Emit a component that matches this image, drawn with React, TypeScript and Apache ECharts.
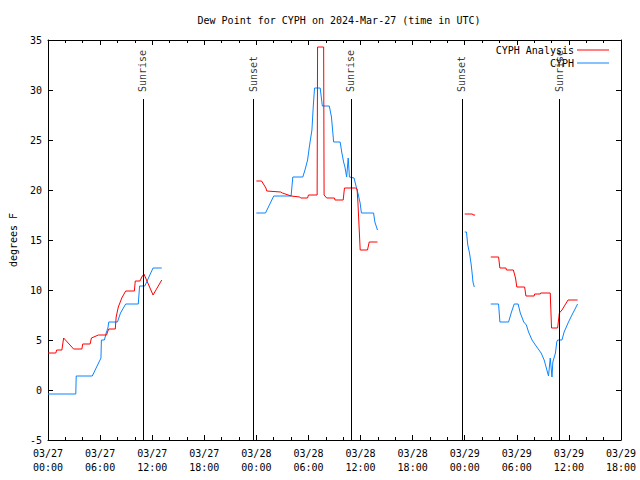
import React, { useEffect, useRef } from "react";
import * as echarts from "echarts";

// Hours since 2024-03-27 00:00 UTC; null = gap in data
const analysisHours: (number | null)[] = [
  0, 0.9, 1.0, 1.6, 1.8, 2.95, 3.9, 4.0, 4.85, 5.0, 5.8, 6.75, 6.85, 7.0, 7.75, 7.85, 8.1, 8.5, 8.95, 9.95, 10.05, 10.6, 10.8, 11.05, 12.1, 13.1,
  null,
  24.0, 24.6, 25.1, 25.2, 26.8, 27.0, 28.0, 29.0, 29.1, 29.9, 30.0, 31.0, 31.05, 31.75, 31.8, 32.1, 33.0, 33.05, 34.0, 34.15, 35.4, 35.6, 35.7, 35.85, 35.96, 36.8, 37.0, 37.95,
  null,
  48.0, 48.9, 48.95, 49.2,
  null,
  51.0, 51.9, 52.05, 52.75, 52.8, 53.6, 53.85, 54.0, 54.9, 55.05, 56.0, 56.05, 56.7, 56.75, 57.85, 58.0, 58.7, 58.9, 59.2, 59.9, 61.0,
];
const analysisValues: (number | null)[] = [
  3.7, 3.7, 4.0, 4.0, 5.2, 4.1, 4.1, 4.6, 4.6, 5.2, 5.5, 5.5, 5.8, 6.1, 6.1, 7.3, 8.3, 9.2, 9.9, 9.9, 10.9, 10.9, 11.3, 11.6, 9.5, 11.0,
  null,
  20.9, 20.9, 20.2, 19.9, 19.8, 19.7, 19.4, 19.3, 19.2, 19.2, 19.5, 19.5, 34.3, 34.3, 19.5, 19.2, 19.2, 19.0, 19.0, 20.2, 20.2, 20.1, 18.7, 16.0, 14.0, 14.0, 14.8, 14.8,
  null,
  17.6, 17.6, 17.5, 17.5,
  null,
  13.3, 13.3, 12.2, 12.2, 12.0, 12.0, 11.2, 10.3, 10.3, 9.4, 9.4, 9.6, 9.6, 9.7, 9.7, 6.2, 6.2, 7.7, 8.0, 9.0, 9.0,
];

const obsHours: (number | null)[] = [
  0, 3.2, 3.25, 5.1, 5.6, 6.1, 6.15, 6.5, 6.7, 6.9, 7.0, 8.0, 8.35, 8.95, 10.4, 10.55, 11.15, 12.1, 13.1,
  null,
  24.0, 25.05, 25.5, 26.0, 28.0, 28.2, 29.35, 29.6, 29.9, 30.1, 30.4, 30.55, 30.7, 31.35, 31.6, 32.4, 32.65, 32.9, 33.65, 33.85, 34.05, 34.2, 34.4, 34.58, 34.72, 35.25, 35.45, 35.75, 35.95, 36.1, 37.5, 37.65, 37.95,
  null,
  48.0, 48.2, 48.35, 48.55, 48.75, 48.85, 48.95, 49.1,
  null,
  51.0, 51.9, 52.05, 53.05, 53.35, 53.7, 54.15, 54.4, 54.8, 55.1, 55.35, 55.75, 56.3, 56.8, 57.15, 57.4, 57.65, 57.85, 58.05, 58.15, 58.45, 58.6, 58.7, 59.2, 59.45, 59.9, 60.35, 61.0,
];
const obsValues: (number | null)[] = [
  -0.4, -0.4, 1.4, 1.4, 2.3, 3.2, 5.0, 5.0, 5.7, 6.2, 6.8, 6.8, 7.7, 8.6, 8.6, 10.4, 10.4, 12.2, 12.2,
  null,
  17.7, 17.7, 18.5, 19.4, 19.4, 21.3, 21.3, 22.0, 23.0, 24.3, 26.0, 28.3, 30.2, 30.2, 28.4, 28.4, 27.3, 24.8, 24.8, 23.7, 22.8, 22.3, 21.3, 23.2, 21.3, 21.2, 20.5, 19.5, 18.7, 17.7, 17.7, 16.8, 16.0,
  null,
  15.8, 15.8, 14.5, 13.7, 12.5, 11.7, 10.8, 10.3,
  null,
  8.6, 8.6, 6.8, 6.8, 7.7, 8.6, 8.6, 7.7, 6.8, 6.5, 5.8, 5.0, 4.3, 3.7, 3.0, 2.2, 1.4, 3.2, 1.3, 2.8, 3.7, 4.8, 5.0, 5.0, 5.8, 6.7, 7.5, 8.6,
];

const eventHours = [10.94, 23.68, 34.9, 47.68, 58.93];
const eventNames = ["Sunrise", "Sunset", "Sunrise", "Sunset", "Sunrise"];
const eventTop = 29.1;

const xTickLabels = [
  "03/27\n00:00", "03/27\n06:00", "03/27\n12:00", "03/27\n18:00",
  "03/28\n00:00", "03/28\n06:00", "03/28\n12:00", "03/28\n18:00",
  "03/29\n00:00", "03/29\n06:00", "03/29\n12:00", "03/29\n18:00",
];

const FONT = "DejaVu Sans Mono";

function zip(xs: (number | null)[], ys: (number | null)[]) {
  return xs.map((x, i) => (x === null || ys[i] === null ? [null, null] : [x, ys[i]]));
}

export default function App() {
  const ref = useRef<HTMLDivElement>(null);
  useEffect(() => {
    if (!ref.current) return;
    const chart = echarts.init(ref.current, undefined, { renderer: "svg" });
    const axisCommon = {
      axisLine: { show: true, onZero: false, lineStyle: { color: "#000", width: 1 } },
      splitLine: { show: false },
    };
    chart.setOption({
      animation: false,
      backgroundColor: "#fff",
      textStyle: { fontFamily: FONT },
      title: {
        text: "Dew Point for CYPH on 2024-Mar-27 (time in UTC)",
        left: 334,
        top: 10,
        textAlign: "center",
        textStyle: { fontFamily: FONT, fontSize: 10, fontWeight: "normal", color: "#000" },
      },
      legend: {
        orient: "vertical",
        right: 26,
        top: 39,
        align: "right",
        icon: "rect",
        itemWidth: 32,
        itemHeight: 1,
        itemGap: 1,
        textStyle: { fontFamily: FONT, fontSize: 10, color: "#000", lineHeight: 12, padding: [0, -2, 0, 0] },
        data: ["CYPH Analysis", "CYPH"],
      },
      grid: { left: 46, top: 40, width: 575, height: 400, containLabel: false },
      xAxis: [
        {
          ...axisCommon,
          type: "value",
          min: 0,
          max: 66,
          interval: 6,
          position: "bottom",
          axisTick: { show: true, inside: true, length: 5, lineStyle: { color: "#000" } },
          minorTick: { show: true, splitNumber: 3, length: 3, lineStyle: { color: "#000" } },
          axisLabel: {
            margin: 6,
            fontFamily: FONT,
            fontSize: 10,
            color: "#000",
            lineHeight: 14,
            formatter: (v: number) => xTickLabels[Math.round(v / 6)] ?? "",
          },
        },
        {
          ...axisCommon,
          type: "value",
          min: 0,
          max: 66,
          interval: 6,
          position: "top",
          axisTick: { show: true, inside: true, length: 5, lineStyle: { color: "#000" } },
          minorTick: { show: true, splitNumber: 3, length: 3, lineStyle: { color: "#000" } },
          axisLabel: { show: false },
        },
      ],
      yAxis: [
        {
          ...axisCommon,
          type: "value",
          min: -5,
          max: 35,
          interval: 5,
          position: "left",
          name: "degrees F",
          nameLocation: "middle",
          nameRotate: 90,
          nameGap: 30,
          nameTextStyle: { fontFamily: FONT, fontSize: 10, color: "#000" },
          axisTick: { show: true, inside: true, length: 5, lineStyle: { color: "#000" } },
          axisLabel: { margin: 6, fontFamily: FONT, fontSize: 10, color: "#000" },
        },
        {
          ...axisCommon,
          type: "value",
          min: -5,
          max: 35,
          interval: 5,
          position: "right",
          axisTick: { show: true, inside: true, length: 5, lineStyle: { color: "#000" } },
          axisLabel: { show: false },
        },
      ],
      series: [
        {
          name: "CYPH Analysis",
          type: "line",
          data: zip(analysisHours, analysisValues),
          showSymbol: false,
          symbol: "none",
          connectNulls: false,
          color: "#ff0000",
          lineStyle: { color: "#ff0000", width: 1 },
          z: 3,
        },
        {
          name: "CYPH",
          type: "line",
          data: zip(obsHours, obsValues),
          showSymbol: false,
          symbol: "none",
          connectNulls: false,
          color: "#0a84ff",
          lineStyle: { color: "#0a84ff", width: 1 },
          z: 2,
        },
        {
          name: "events",
          type: "line",
          data: [],
          symbol: "none",
          markLine: {
            silent: true,
            symbol: "none",
            label: { show: false },
            lineStyle: { color: "#000", width: 1, type: "solid" },
            data: eventHours.map((h) => [{ coord: [h, -5] }, { coord: [h, eventTop] }]),
          },
        },
        {
          name: "eventLabels",
          type: "scatter",
          symbolSize: 0,
          silent: true,
          data: eventHours.map((h, i) => [h, eventTop, eventNames[i]]),
          label: {
            show: true,
            position: [0, -7],
            rotate: 90,
            align: "left",
            verticalAlign: "middle",
            fontFamily: FONT,
            fontSize: 10,
            color: "#000",
            formatter: (p: any) => p.data[2],
          },
          z: 4,
        },
      ],
    });
    return () => chart.dispose();
  }, []);
  return <div ref={ref} style={{ width: 640, height: 480, position: "absolute", left: 0, top: 0 }} />;
}
